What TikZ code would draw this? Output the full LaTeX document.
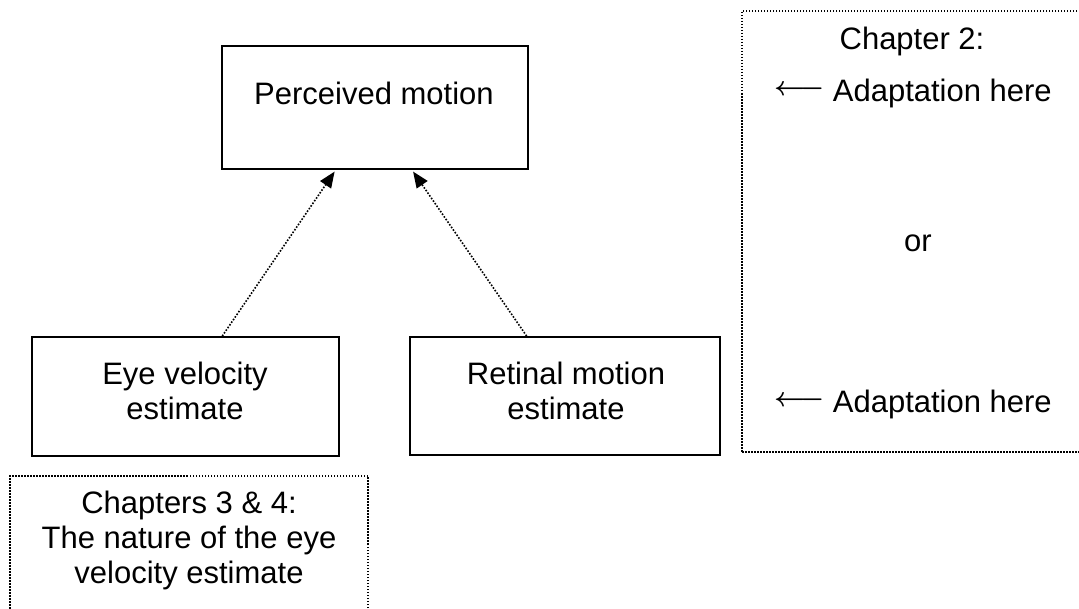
\documentclass[tikz,border=0pt]{standalone}
\usepackage{graphicx}
\usepackage{fontspec}
\setmainfont{Liberation Sans}
\usetikzlibrary{arrows.meta,calc}
% thin long arrow set before the "Adaptation here" notes
\newcommand\adaptarrow{\raisebox{6.6pt}{\scalebox{2.7}{\fontsize{10}{10}\selectfont\boldmath$\longleftarrow$}}}
\begin{document}
\begin{tikzpicture}[x=1pt,y=-1pt,
  box/.style={draw, line width=1.9pt, inner sep=0pt},
  frame/.style={draw, line width=1.5pt, dash pattern=on 1.5pt off 1.5pt, inner sep=0pt},
  txt/.style={font=\fontsize{31}{35}\selectfont, align=center, inner sep=0pt},
  link/.style={line width=1.6pt, dash pattern=on 1.6pt off 1.6pt,
    -{Triangle[length=16pt,width=13pt]}, shorten >=2pt},
]
\useasboundingbox (0,0) rectangle (1079,609);
\clip (0,0) rectangle (1079,609);

% model boxes
\node[box, minimum width=306pt, minimum height=123pt] (pm) at (375,107.5) {};
\node[box, minimum width=307pt, minimum height=119pt] (eye) at (185.5,396.5) {};
\node[box, minimum width=310pt, minimum height=118pt] (ret) at (565,396) {};

\node[txt] (pmtext) at (374,93) {Perceived motion};
\node[txt] (eyetext) at (185,391.4) {Eye velocity\\estimate};
\node[txt] (rettext) at (566,391.4) {Retinal motion\\estimate};

% dotted note frames (running off the page edge)
\node[frame, minimum width=358pt, minimum height=164pt] (notechap34) at (189,558) {};
\node[frame, minimum width=358pt, minimum height=441pt] (notechap2) at (921,231.5) {};

\node[txt] (ch34) at (189,540) {Chapters 3 \& 4:\\The nature of the eye\\velocity estimate};

\node[txt, anchor=base] (ch2) at (912,50) {Chapter 2:};
\node[txt, anchor=base] (adaptA) at (913,102) {\adaptarrow\ Adaptation here};
\node[txt, anchor=base] (ortext) at (918,252) {or};
\node[txt, anchor=base] (adaptB) at (913,413) {\adaptarrow\ Adaptation here};

% signals feeding the percept
\draw[link] ($(eye.north west)!0.619!(eye.north east)$) -- ($(pm.south west)!0.3725!(pm.south east)$);
\draw[link] ($(ret.north west)!0.377!(ret.north east)$) -- ($(pm.south west)!0.62!(pm.south east)$);
\end{tikzpicture}
\end{document}
